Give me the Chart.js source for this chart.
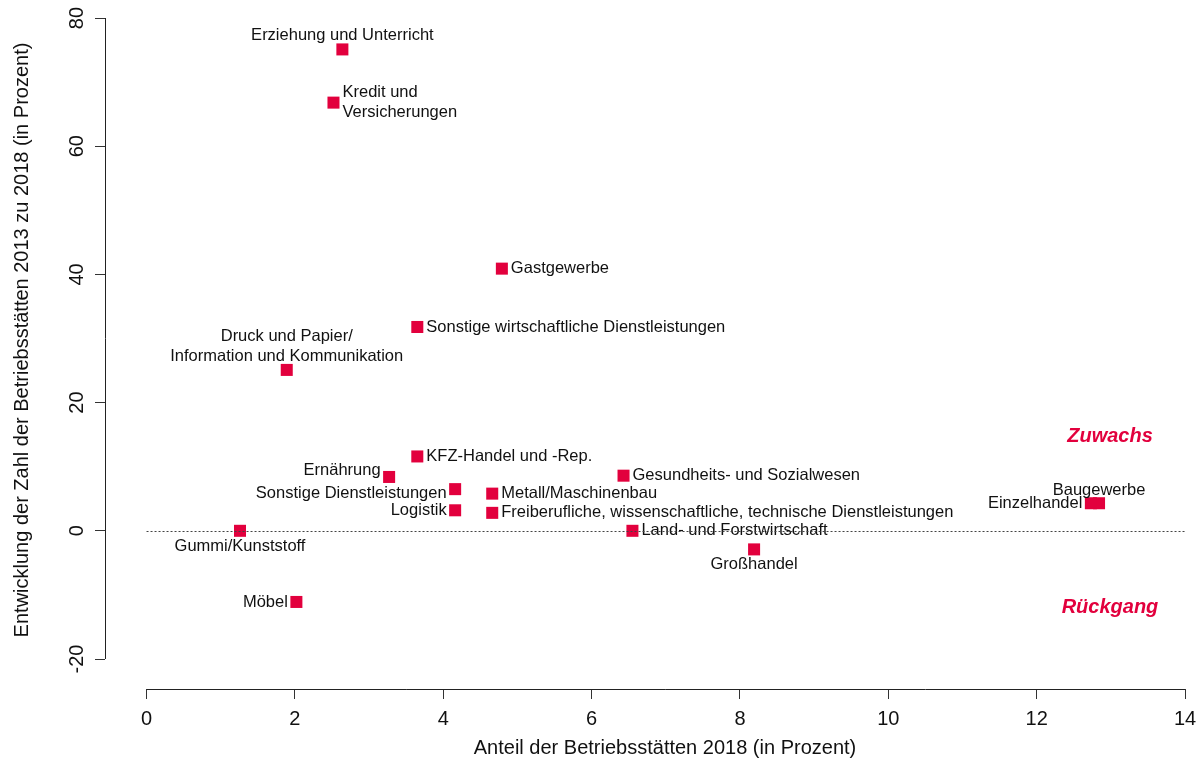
<!DOCTYPE html>
<html>
<head>
<meta charset="utf-8">
<script src="https://cdn.jsdelivr.net/npm/chart.js@4.4.1/dist/chart.umd.min.js"></script>
<style>
  body { margin: 0; background: #fff; }
  canvas { display: block; }
</style>
</head>
<body>
<canvas id="scatterChart" width="1204" height="767"></canvas>
<script>
// Branchen, Anteil 2018 (x) und Entwicklung 2013-2018 (y)
const branchen = [
    'Erziehung und Unterricht',
    'Kredit und\nVersicherungen',
    'Gastgewerbe',
    'Sonstige wirtschaftliche Dienstleistungen',
    'Druck und Papier/\nInformation und Kommunikation',
    'KFZ-Handel und -Rep.',
    'Ernährung',
    'Gesundheits- und Sozialwesen',
    'Sonstige Dienstleistungen',
    'Metall/Maschinenbau',
    'Logistik',
    'Freiberufliche, wissenschaftliche, technische Dienstleistungen',
    'Baugewerbe',
    'Einzelhandel',
    'Gummi/Kunststoff',
    'Land- und Forstwirtschaft',
    'Großhandel',
    'Möbel'
];
const anteil = [2.64, 2.52, 4.79, 3.65, 1.89, 3.65, 3.27, 6.43, 4.16, 4.66, 4.16, 4.66, 12.84, 12.73, 1.26, 6.55, 8.19, 2.02];
const entwicklung = [75.1, 66.8, 40.9, 31.8, 25.1, 11.6, 8.4, 8.6, 6.5, 5.8, 3.2, 2.8, 4.3, 4.3, 0.0, 0.0, -2.9, -11.1];

const xTicks = [0, 2, 4, 6, 8, 10, 12, 14];
const yTicks = [-20, 0, 20, 40, 60, 80];

const xTitle = 'Anteil der Betriebsstätten 2018 (in Prozent)';
const yTitle = 'Entwicklung der Zahl der Betriebsstätten 2013 zu 2018 (in Prozent)';

// label placement (like R's pos argument) + small nudges
const labelPos = ['top', 'right', 'right', 'right', 'top', 'right', 'left', 'right', 'left',
    'right', 'left', 'right', 'top', 'left', 'bottom', 'right', 'bottom', 'left'];
const labelDy = [0, 0, 0, 0, 0, 0, -6.5, 0, 4, 0, 0, 0, 1, 0, 0, 0, 0, 0];

const red = '#E2003D';
const font = '"Liberation Sans", Arial, sans-serif';

const points = anteil.map((x, i) => ({ x: x, y: entwicklung[i] }));

const decorPlugin = {
    id: 'decor',
    afterDatasetsDraw(chart) {
        const ctx = chart.ctx;
        const xs = chart.scales.x;
        const ys = chart.scales.y;
        const area = chart.chartArea;

        ctx.save();
        ctx.strokeStyle = '#222';
        ctx.lineWidth = 1;

        // R style axis lines, only between first and last tick
        ctx.beginPath();
        ctx.moveTo(xs.getPixelForValue(xTicks[0]), area.bottom + 0.5);
        ctx.lineTo(xs.getPixelForValue(xTicks[xTicks.length - 1]), area.bottom + 0.5);
        ctx.moveTo(area.left + 0.5, ys.getPixelForValue(yTicks[0]));
        ctx.lineTo(area.left + 0.5, ys.getPixelForValue(yTicks[yTicks.length - 1]));
        ctx.stroke();

        // y tick labels, rotated
        ctx.fillStyle = '#111';
        ctx.font = '20px ' + font;
        ctx.textAlign = 'center';
        ctx.textBaseline = 'middle';
        yTicks.forEach(v => {
            ctx.save();
            ctx.translate(77, ys.getPixelForValue(v));
            ctx.rotate(-Math.PI / 2);
            ctx.fillText(String(v), 0, 0);
            ctx.restore();
        });

        // axis titles
        ctx.fillText(xTitle, 665, 748);
        ctx.save();
        ctx.translate(22, 340);
        ctx.rotate(-Math.PI / 2);
        ctx.fillText(yTitle, 0, 0);
        ctx.restore();

        // point labels
        ctx.font = '16.5px ' + font;
        const lh = 20;
        branchen.forEach((name, i) => {
            const px = xs.getPixelForValue(anteil[i]);
            const py = ys.getPixelForValue(entwicklung[i]) + labelDy[i];
            const lines = name.split('\n');
            const pos = labelPos[i];
            let tx = px, firstY;
            if (pos === 'right') {
                ctx.textAlign = 'left';
                tx = px + 9;
                firstY = py - (lines.length - 1) * lh / 2;
            } else if (pos === 'left') {
                ctx.textAlign = 'right';
                tx = px - 8.5;
                firstY = py - (lines.length - 1) * lh / 2;
            } else if (pos === 'top') {
                ctx.textAlign = 'center';
                firstY = py - 13.5 - (lines.length - 1) * lh;
            } else {
                ctx.textAlign = 'center';
                firstY = py + 15.5;
            }
            lines.forEach((line, k) => ctx.fillText(line, tx, firstY + k * lh));
        });

        // Zuwachs / Rückgang
        ctx.fillStyle = red;
        ctx.font = 'italic bold 20px ' + font;
        ctx.textAlign = 'center';
        ctx.fillText('Zuwachs', 1110, 436);
        ctx.fillText('Rückgang', 1110, 607);

        // dotted zero line
        ctx.strokeStyle = '#444';
        ctx.setLineDash([2, 2]);
        ctx.beginPath();
        ctx.moveTo(xs.getPixelForValue(xTicks[0]), Math.round(ys.getPixelForValue(0)) + 0.5);
        ctx.lineTo(xs.getPixelForValue(xTicks[xTicks.length - 1]), Math.round(ys.getPixelForValue(0)) + 0.5);
        ctx.stroke();
        ctx.restore();
    }
};

new Chart(document.getElementById('scatterChart').getContext('2d'), {
    type: 'scatter',
    data: {
        datasets: [{
            label: 'Branchen',
            data: points,
            pointStyle: 'rect',
            pointRadius: 8.5,
            pointBorderWidth: 0,
            backgroundColor: red,
            borderColor: red
        }]
    },
    options: {
        responsive: false,
        animation: false,
        events: [],
        layout: { padding: 0, autoPadding: false },
        plugins: {
            legend: { display: false },
            tooltip: { enabled: false }
        },
        scales: {
            x: {
                type: 'linear',
                min: -0.56,
                max: 14.255,
                afterBuildTicks: scale => { scale.ticks = xTicks.map(v => ({ value: v })); },
                afterFit: scale => {
                    scale.height = 78;
                    scale.paddingLeft = 0; scale.paddingRight = 0;
                },
                grid: { drawOnChartArea: false, drawTicks: true, tickLength: 10, color: '#333' },
                border: { display: false },
                ticks: {
                    color: '#111',
                    font: { family: font, size: 20 },
                    padding: 8,
                    maxRotation: 0,
                    autoSkip: false
                }
            },
            y: {
                type: 'linear',
                min: -24.68,
                max: 82.81,
                afterBuildTicks: scale => { scale.ticks = yTicks.map(v => ({ value: v })); },
                afterFit: scale => {
                    scale.width = 105;
                    scale.paddingTop = 0; scale.paddingBottom = 0;
                },
                grid: { drawOnChartArea: false, drawTicks: true, tickLength: 10, color: '#333' },
                border: { display: false },
                ticks: { display: false }
            }
        }
    },
    plugins: [decorPlugin]
});
</script>
</body>
</html>
